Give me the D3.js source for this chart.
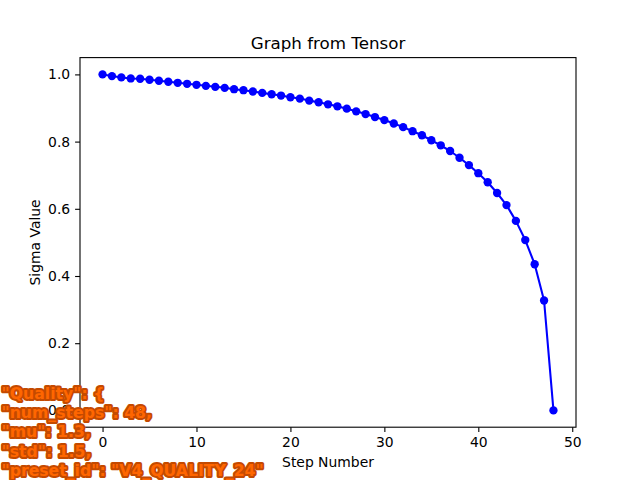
<!DOCTYPE html>
<html>
<head>
<meta charset="utf-8">
<script src="https://cdn.jsdelivr.net/npm/d3@7"></script>
<style>
  html, body { margin: 0; padding: 0; background: #fff; }
  svg { display: block; font-family: "DejaVu Sans", sans-serif; }
</style>
</head>
<body>
<svg id="chart" width="640" height="480"></svg>
<script>
// ---- data ----
const steps = d3.range(0, 49);
const sigmaValues = [
  1.000, 0.995, 0.991, 0.988, 0.987, 0.984, 0.981, 0.978, 0.975, 0.972,
  0.969, 0.966, 0.963, 0.960, 0.956, 0.953, 0.949, 0.945, 0.941, 0.937,
  0.932, 0.928, 0.922, 0.917, 0.911, 0.905, 0.898, 0.890, 0.882, 0.873,
  0.864, 0.854, 0.843, 0.831, 0.819, 0.804, 0.789, 0.772, 0.752, 0.730,
  0.706, 0.679, 0.647, 0.611, 0.564, 0.507, 0.435, 0.327, 0.000
];
const xTicks = [0, 10, 20, 30, 40, 50];
const yTicks = [0.0, 0.2, 0.4, 0.6, 0.8, 1.0];
const titleText = "Graph from Tensor";
const xLabelText = "Step Number";
const yLabelText = "Sigma Value";
const overlayLines = [
  '"Quality": {',
  '"num_steps": 48,',
  '"mu": 1.3,',
  '"std": 1.5,',
  '"preset_id": "V4_QUALITY_24"'
];

// ---- layout ----
const svg = d3.select("#chart");
const L = 80, R = 576, T = 57.6, B = 427.2;

const x = d3.scaleLinear().domain([-2.4, 50.4]).range([L, R]);
const y = d3.scaleLinear().domain([-0.05, 1.05]).range([B, T]);

const data = steps.map((s, i) => ({ s, v: sigmaValues[i] }));

// axes
const xAxis = d3.axisBottom(x).tickValues(xTicks).tickFormat(d3.format("d"))
  .tickSizeInner(4.9).tickSizeOuter(0).tickPadding(4.9);
const yAxis = d3.axisLeft(y).tickValues(yTicks).tickFormat(d3.format(".1f"))
  .tickSizeInner(4.9).tickSizeOuter(0).tickPadding(4.9);

const gx = svg.append("g").attr("transform", `translate(0,${B})`).call(xAxis);
const gy = svg.append("g").attr("transform", `translate(${L},0)`).call(yAxis);
[gx, gy].forEach(g => {
  g.select(".domain").remove();
  g.selectAll("line").attr("stroke", "#000").attr("stroke-width", 1.1);
  g.selectAll("text").attr("fill", "#000").attr("font-size", "13.9px")
    .attr("font-family", "DejaVu Sans, sans-serif");
});

// frame
svg.append("rect").attr("x", L).attr("y", T).attr("width", R - L).attr("height", B - T)
  .attr("fill", "none").attr("stroke", "#000").attr("stroke-width", 1.1);

// line + markers
const marks = svg.append("g");
marks.append("path").datum(data)
  .attr("fill", "none").attr("stroke", "#0000ff").attr("stroke-width", 2.08)
  .attr("stroke-linejoin", "round")
  .attr("d", d3.line().x(d => x(d.s)).y(d => y(d.v)));
marks.selectAll("circle").data(data).join("circle")
  .attr("cx", d => x(d.s)).attr("cy", d => y(d.v)).attr("r", 4.17)
  .attr("fill", "#0000ff");

// title & labels
svg.append("text").attr("x", (L + R) / 2).attr("y", 49).attr("text-anchor", "middle")
  .attr("font-size", "16.7px").attr("fill", "#000").text(titleText);
svg.append("text").attr("x", (L + R) / 2).attr("y", 467).attr("text-anchor", "middle")
  .attr("font-size", "13.9px").attr("fill", "#000").text(xLabelText);
svg.append("text").attr("transform", `translate(39.5,${(T + B) / 2}) rotate(-90)`)
  .attr("text-anchor", "middle").attr("font-size", "13.9px").attr("fill", "#000").text(yLabelText);

// overlay text
const ov = svg.append("g");
overlayLines.forEach((t, i) => {
  ov.append("text").attr("x", 1.5).attr("y", 399 + i * 19.2)
    .attr("font-size", "15.7px").attr("font-weight", "bold")
    .attr("font-family", "DejaVu Sans, sans-serif")
    .attr("fill", "#ff6600").attr("stroke", "#c44a00").attr("stroke-width", 4)
    .attr("stroke-linejoin", "round").attr("paint-order", "stroke")
    .text(t);
});
</script>
</body>
</html>
